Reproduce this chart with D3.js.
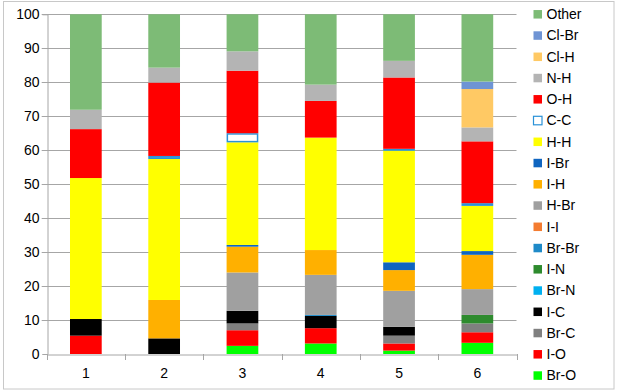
<!DOCTYPE html>
<html><head><meta charset="utf-8">
<script src="https://cdn.jsdelivr.net/npm/d3@7"></script>
<style>html,body{margin:0;padding:0;background:#fff}svg{display:block}</style>
</head><body>
<svg id="c" width="619" height="392"></svg>
<script>
const categories = ["1","2","3","4","5","6"];
// stack order bottom -> top
const seriesNames = ["Br-O","I-O","Br-C","I-C","Br-N","I-N","Br-Br","I-I","H-Br","I-H","I-Br","H-H","C-C","O-H","N-H","Cl-H","Cl-Br","Other"];
const seriesColors = ["#00ff00","#ff0000","#808080","#000000","#00b0f0","#2e8b2e","#1f8ac8","#f47c30","#a0a0a0","#ffb000","#0f65c0","#ffff00","#ffffff","#ff0000","#b4b4b4","#ffc964","#6f94d4","#7dbb76"];
const BrO  = [0,   0,   2.4, 3.1, 1.0, 3.3];
const IO   = [5.4, 0,   4.6, 4.5, 2.1, 3.1];
const BrC  = [0,   0,   2.0, 0,   2.3, 2.6];
const IC   = [4.9, 4.6, 3.7, 3.6, 2.6, 0];
const BrN  = [0,   0,   0,   0,   0,   0];
const IN   = [0,   0,   0,   0,   0,   2.5];
const BrBr = [0,   0,   0,   0.3, 0,   0];
const II   = [0,   0,   0,   0,   0,   0];
const HBr  = [0,   0,   11.3,11.8,10.6,7.6];
const IH   = [0,   11.3,7.6, 7.3, 6.1, 10.1];
const IBr  = [0,   0,   0.5, 0,   2.3, 1.1];
const HH   = [41.5,41.5,30.2,33.1,33.1,13.3];
const CC   = [0,   0.9, 2.7, 0,   0.3, 0.8];
const OH   = [14.4,21.6,18.4,10.8,21.0,18.2];
const NH   = [5.7, 4.4, 5.7, 4.8, 4.9, 4.1];
const ClH  = [0,   0,   0,   0,   0,   11.3];
const ClBr = [0,   0,   0,   0,   0,   2.2];
const Other= [28.1,15.7,10.9,20.7,13.7,19.8];
const yTicks = [0,10,20,30,40,50,60,70,80,90,100];

const seriesValues = [BrO,IO,BrC,IC,BrN,IN,BrBr,II,HBr,IH,IBr,HH,CC,OH,NH,ClH,ClBr,Other];
const rows = categories.map((c,i)=>{const r={cat:c}; seriesNames.forEach((s,j)=>r[s]=seriesValues[j][i]); return r;});

const svg = d3.select("#c");
const font = "'Liberation Sans', Arial, sans-serif";
const pL=46.7, pR=516.5, pT=14.3, pB=354;

svg.append("rect").attr("x",3.5).attr("y",1.5).attr("width",610.5).attr("height",387.5)
  .attr("fill","#fff").attr("stroke","#c8c8c8").attr("stroke-width",1);

const x = d3.scaleBand().domain(categories).range([pL,pR]).padding(0);
const y = d3.scaleLinear().domain([0,100]).range([pB,pT]);

// gridlines
svg.append("g").selectAll("line").data(yTicks.filter(d=>d>0)).join("line")
  .attr("x1",pL-5).attr("x2",pR).attr("y1",d=>Math.round(y(d))+0.5).attr("y2",d=>Math.round(y(d))+0.5)
  .attr("stroke","#a6a6a6").attr("stroke-width",1);

// y axis
const ya = svg.append("g").attr("transform",`translate(${Math.round(pL)+0.5},0)`)
  .call(d3.axisLeft(y).tickValues(yTicks).tickSize(5).tickPadding(3));
ya.select(".domain").attr("stroke","#a6a6a6");
ya.selectAll(".tick line").attr("stroke","#a6a6a6");
ya.selectAll(".tick text").attr("font-family",font).attr("font-size","14px").attr("fill","#000");
ya.selectAll(".tick").attr("transform",d=>`translate(0,${Math.round(y(d))+0.5})`);

// stacks
const stack = d3.stack().keys(seriesNames)(rows);
const bw = x.bandwidth()*0.405;
svg.append("g").selectAll("g").data(stack).join("g")
  .each(function(layer,j){
    const isCC = seriesNames[j]==="C-C";
    d3.select(this).selectAll("rect").data(layer.filter(d=>d[1]-d[0]>0)).join("rect")
      .attr("x",d=>x(d.data.cat)+x.bandwidth()/2-bw/2 + (isCC?0.75:0))
      .attr("y",d=>y(d[1]) + (isCC?0.75:0))
      .attr("width",bw - (isCC?1.5:0))
      .attr("height",d=>Math.max(0.5,y(d[0])-y(d[1]) - (isCC?1.5:0)))
      .attr("fill",seriesColors[j])
      .attr("stroke",isCC?"#2a92d8":"none")
      .attr("stroke-width",isCC?1.5:0);
  });

// x axis
const xa = svg.append("g").attr("transform",`translate(0,${Math.round(pB)+0.5})`)
  .call(d3.axisBottom(x).tickSize(0).tickPadding(14));
xa.select(".domain").attr("stroke","#a6a6a6");
xa.selectAll(".tick text").attr("font-family",font).attr("font-size","14px").attr("fill","#000");
// category boundary ticks
svg.append("g").selectAll("line").data(categories.concat(["end"])).join("line")
  .attr("x1",(d,i)=>Math.round(i<categories.length?x(d):pR)+0.5)
  .attr("x2",(d,i)=>Math.round(i<categories.length?x(d):pR)+0.5)
  .attr("y1",Math.round(pB)).attr("y2",Math.round(pB)+6)
  .attr("stroke","#a6a6a6");

// legend (reverse order)
const legendItems = seriesNames.map((s,j)=>({name:s,color:seriesColors[j]})).reverse();
const lg = svg.append("g").selectAll("g").data(legendItems).join("g")
  .attr("transform",(d,i)=>`translate(533.5,${14.3+i*21.25})`);
lg.append("rect").attr("x",0).attr("y",-4.25).attr("width",8.5).attr("height",8.5)
  .attr("fill",d=>d.color)
  .attr("stroke",d=>d.name==="C-C"?"#2a92d8":"none").attr("stroke-width",1.2);
lg.append("text").attr("x",13).attr("y",0).attr("dy","0.35em")
  .attr("font-family",font).attr("font-size","14px").attr("fill","#000").text(d=>d.name);
</script>
</body></html>
